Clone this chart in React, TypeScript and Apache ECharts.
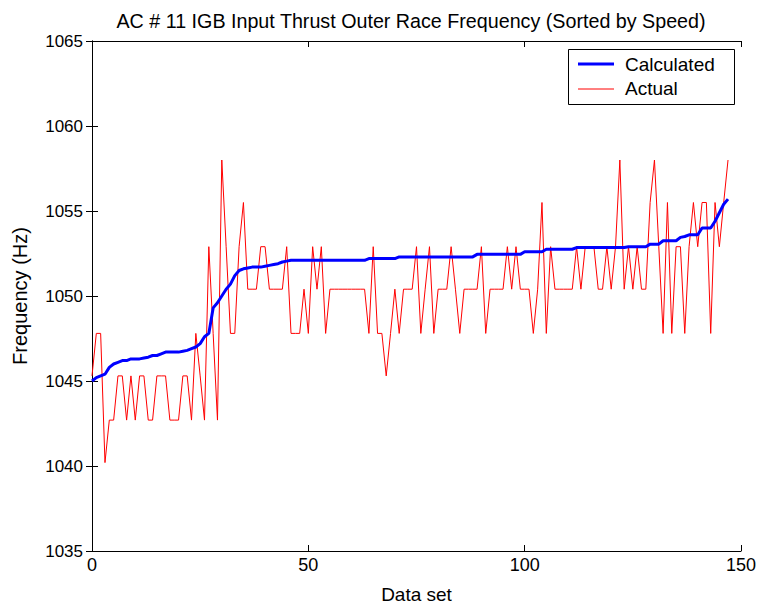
import React, { useEffect, useRef } from "react";
import * as echarts from "echarts";

const titleText = "AC # 11 IGB Input Thrust Outer Race Frequency (Sorted by Speed)";
const xTicks = [0, 50, 100, 150];
const yTicks = [1035, 1040, 1045, 1050, 1055, 1060, 1065];
const legendNames = ["Calculated", "Actual"];

const calculated = [
  1045.0, 1045.2, 1045.3, 1045.4, 1045.8, 1046.0, 1046.1, 1046.2, 1046.2, 1046.3,
  1046.3, 1046.3, 1046.35, 1046.4, 1046.5, 1046.5, 1046.6, 1046.7, 1046.7, 1046.7,
  1046.7, 1046.75, 1046.8, 1046.9, 1047.0, 1047.2, 1047.6, 1047.8, 1049.3, 1049.6,
  1050.0, 1050.4, 1050.7, 1051.2, 1051.5, 1051.6, 1051.65, 1051.7, 1051.7, 1051.7,
  1051.75, 1051.8, 1051.85, 1051.9, 1052.0, 1052.05, 1052.1, 1052.1, 1052.1, 1052.1,
  1052.1, 1052.1, 1052.1, 1052.1, 1052.1, 1052.1, 1052.1, 1052.1, 1052.1, 1052.1,
  1052.1, 1052.1, 1052.1, 1052.1, 1052.2, 1052.2, 1052.2, 1052.2, 1052.2, 1052.2,
  1052.2, 1052.3, 1052.3, 1052.3, 1052.3, 1052.3, 1052.3, 1052.3, 1052.3, 1052.3,
  1052.3, 1052.3, 1052.3, 1052.3, 1052.3, 1052.3, 1052.3, 1052.3, 1052.3, 1052.45,
  1052.45, 1052.45, 1052.45, 1052.45, 1052.45, 1052.45, 1052.45, 1052.45, 1052.45, 1052.45,
  1052.6, 1052.6, 1052.6, 1052.6, 1052.6, 1052.75, 1052.75, 1052.75, 1052.75, 1052.75,
  1052.75, 1052.75, 1052.85, 1052.85, 1052.85, 1052.85, 1052.85, 1052.85, 1052.85, 1052.85,
  1052.85, 1052.85, 1052.85, 1052.85, 1052.9, 1052.9, 1052.9, 1052.9, 1052.9, 1053.05,
  1053.05, 1053.05, 1053.25, 1053.25, 1053.25, 1053.25, 1053.45, 1053.5, 1053.6, 1053.6,
  1053.6, 1054.0, 1054.0, 1054.0, 1054.4, 1054.9, 1055.4, 1055.7,
];

const actual = [
  1045.3, 1047.8, 1047.8, 1040.2, 1042.7, 1042.7, 1045.3, 1045.3, 1042.7, 1045.3,
  1042.7, 1045.3, 1045.3, 1042.7, 1042.7, 1045.3, 1045.3, 1045.3, 1042.7, 1042.7,
  1042.7, 1045.3, 1045.3, 1042.7, 1047.8, 1045.3, 1042.7, 1052.9, 1047.8, 1042.7,
  1058.0, 1052.9, 1047.8, 1047.8, 1052.9, 1055.5, 1050.4, 1050.4, 1050.4, 1052.9,
  1052.9, 1050.4, 1050.4, 1050.4, 1050.4, 1052.9, 1047.8, 1047.8, 1047.8, 1050.4,
  1047.8, 1052.9, 1050.4, 1052.9, 1047.8, 1050.4, 1050.4, 1050.4, 1050.4, 1050.4,
  1050.4, 1050.4, 1050.4, 1050.4, 1047.8, 1052.9, 1047.8, 1047.8, 1045.3, 1047.8,
  1050.4, 1047.8, 1050.4, 1050.4, 1050.4, 1052.9, 1047.8, 1050.4, 1052.9, 1047.8,
  1050.4, 1050.4, 1050.4, 1052.9, 1050.4, 1047.8, 1050.4, 1050.4, 1050.4, 1050.4,
  1052.9, 1047.8, 1050.4, 1050.4, 1050.4, 1050.4, 1052.9, 1050.4, 1052.9, 1050.4,
  1050.4, 1050.4, 1047.8, 1050.4, 1055.5, 1047.8, 1052.9, 1050.4, 1050.4, 1050.4,
  1050.4, 1050.4, 1052.9, 1050.4, 1052.9, 1052.9, 1052.9, 1050.4, 1050.4, 1052.9,
  1050.4, 1052.9, 1058.0, 1050.4, 1052.9, 1050.4, 1052.9, 1050.4, 1050.4, 1055.5,
  1058.0, 1052.9, 1047.8, 1055.5, 1047.8, 1052.9, 1052.9, 1047.8, 1052.9, 1055.5,
  1052.9, 1055.5, 1055.5, 1047.8, 1055.5, 1052.9, 1055.5, 1058.0,
];

const FONT = "'Liberation Sans', Arial, sans-serif";

export default function App() {
  const ref = useRef<HTMLDivElement>(null);
  useEffect(() => {
    if (!ref.current) return;
    const chart = echarts.init(ref.current, undefined, { renderer: "svg" });
    const axisCommon = {
      axisLine: { show: true, lineStyle: { color: "#000", width: 1 } },
      axisTick: { show: true, inside: true, length: 6, lineStyle: { color: "#000" } },
      splitLine: { show: false },
    };
    const fmt = (v: number) => String(v);
    chart.setOption({
      animation: false,
      backgroundColor: "#fff",
      textStyle: { fontFamily: FONT },
      title: {
        text: titleText,
        left: 406,
        top: 6,
        textAlign: "center",
        textStyle: { fontFamily: FONT, fontSize: 19.7, fontWeight: "normal", color: "#000" },
      },
      grid: { left: 92, right: 20, top: 41, bottom: 58, show: false },
      xAxis: [
        {
          type: "value",
          min: xTicks[0],
          max: xTicks[xTicks.length - 1],
          interval: 50,
          name: "Data set",
          nameLocation: "middle",
          nameGap: 34,
          nameTextStyle: { fontFamily: FONT, fontSize: 19, color: "#000" },
          axisLabel: { fontFamily: FONT, fontSize: 18, color: "#000", margin: 5, formatter: fmt },
          ...axisCommon,
        },
        {
          type: "value",
          position: "top",
          min: xTicks[0],
          max: xTicks[xTicks.length - 1],
          interval: 50,
          axisLabel: { show: false },
          ...axisCommon,
        },
      ],
      yAxis: [
        {
          type: "value",
          min: yTicks[0],
          max: yTicks[yTicks.length - 1],
          interval: 5,
          name: "Frequency (Hz)",
          nameLocation: "middle",
          nameGap: 62,
          nameTextStyle: { fontFamily: FONT, fontSize: 20, color: "#000" },
          axisLabel: { fontFamily: FONT, fontSize: 17, color: "#000", margin: 9, formatter: fmt },
          ...axisCommon,
        },
        {
          type: "value",
          position: "right",
          min: yTicks[0],
          max: yTicks[yTicks.length - 1],
          interval: 5,
          axisLabel: { show: false },
          ...axisCommon,
        },
      ],
      graphic: [
        {
          type: "group",
          z: 100,
          children: [
            {
              type: "rect",
              shape: { x: 568.5, y: 49.5, width: 166, height: 55 },
              style: { fill: "#fff", stroke: "#000", lineWidth: 1 },
            },
            {
              type: "line",
              shape: { x1: 578, y1: 64, x2: 614, y2: 64 },
              style: { stroke: "#0000ff", lineWidth: 3 },
            },
            {
              type: "line",
              shape: { x1: 578, y1: 89, x2: 614, y2: 89 },
              style: { stroke: "#ff0000", lineWidth: 1 },
            },
            {
              type: "text",
              x: 625,
              y: 64,
              style: {
                text: legendNames[0],
                fontFamily: FONT,
                fontSize: 19,
                fill: "#000",
                verticalAlign: "middle",
                textAlign: "left",
              },
            },
            {
              type: "text",
              x: 625,
              y: 88,
              style: {
                text: legendNames[1],
                fontFamily: FONT,
                fontSize: 19,
                fill: "#000",
                verticalAlign: "middle",
                textAlign: "left",
              },
            },
          ],
        },
      ],
      series: [
        {
          name: legendNames[0],
          type: "line",
          data: calculated.map((v, i) => [i, v]),
          showSymbol: false,
          symbol: "none",
          lineStyle: { color: "#0000ff", width: 3 },
          z: 3,
        },
        {
          name: legendNames[1],
          type: "line",
          data: actual.map((v, i) => [i, v]),
          showSymbol: false,
          symbol: "none",
          lineStyle: { color: "#ff0000", width: 1 },
          z: 2,
        },
      ],
    });
    return () => chart.dispose();
  }, []);
  return (
    <div
      ref={ref}
      style={{ position: "fixed", left: 0, top: 0, width: 761, height: 609, background: "#fff" }}
    />
  );
}
